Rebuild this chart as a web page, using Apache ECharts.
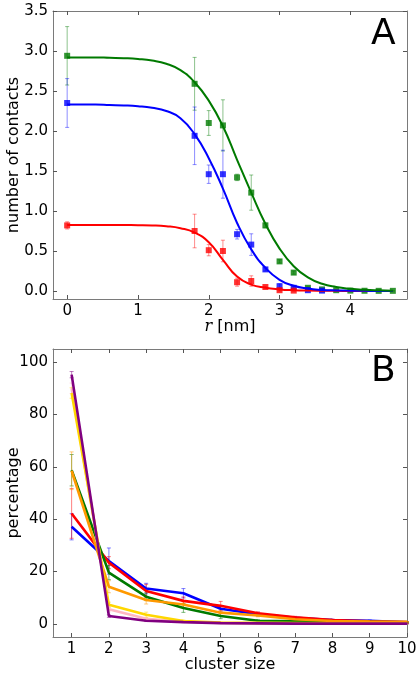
<!DOCTYPE html>
<html><head><meta charset="utf-8">
<script src="https://cdn.jsdelivr.net/npm/echarts@6/dist/echarts.min.js"></script>
<style>html,body{margin:0;padding:0;background:#fff}#c{width:420px;height:675px}</style>
</head><body><div id="c"></div>
<script>
// ---------- Panel A data ----------
const rPts = [0, 1.8, 2.0, 2.2, 2.4, 2.6, 2.8, 3.0, 3.2, 3.4, 3.6, 3.8, 4.0, 4.2, 4.4, 4.6];
const greenPts = [2.94, 2.59, 2.10, 2.07, 1.42, 1.23, 0.82, 0.37, 0.23, 0.04, 0.02, 0.01, 0.005, 0.003, 0.002, 0.002];
const greenErr = [0.365, 0.33, 0.155, 0.32, 0.04, 0.22, 0.03, 0.02, 0.02, 0.01, 0.01, 0, 0, 0, 0, 0];
const bluePts = [2.35, 1.94, 1.46, 1.46, 0.71, 0.58, 0.27, 0.06, 0.04, 0.01, 0.005];
const blueErr = [0.305, 0.36, 0.115, 0.30, 0.06, 0.135, 0.02, 0.03, 0.015, 0.01, 0];
const redPts = [0.82, 0.75, 0.51, 0.50, 0.11, 0.125, 0.05, 0.01, 0.005];
const redErr = [0.045, 0.21, 0.07, 0.135, 0.05, 0.065, 0.01, 0.01, 0.005];
// fitted curves
const fitR = [0, 0.2, 0.4, 0.6, 0.8, 1.0, 1.2, 1.4, 1.6, 1.8, 2.0, 2.2, 2.4, 2.6, 2.8, 3.0, 3.2, 3.4, 3.6, 3.8, 4.0, 4.2, 4.4, 4.6];
const greenFit = [2.92, 2.92, 2.92, 2.915, 2.91, 2.90, 2.88, 2.84, 2.76, 2.61, 2.38, 2.06, 1.64, 1.23, 0.84, 0.53, 0.31, 0.17, 0.09, 0.05, 0.028, 0.015, 0.008, 0.004];
const blueFit = [2.33, 2.33, 2.33, 2.325, 2.32, 2.31, 2.29, 2.25, 2.16, 1.96, 1.66, 1.28, 0.85, 0.52, 0.29, 0.14, 0.065, 0.03, 0.014, 0.007, 0.004, 0.002, 0.001, 0.001];
const redFit = [0.825, 0.825, 0.825, 0.824, 0.824, 0.823, 0.82, 0.81, 0.785, 0.73, 0.61, 0.39, 0.18, 0.08, 0.04, 0.02, 0.01, 0.005, 0.003, 0.002, 0.001, 0.001, 0.001, 0];
const xTicksA = [0, 1, 2, 3, 4];
const yTicksA = [0, 0.5, 1.0, 1.5, 2.0, 2.5, 3.0, 3.5];

// ---------- Panel B data ----------
const clusterSize = [1, 2, 3, 4, 5, 6, 7, 8, 9, 10];
const blueB = [37.1, 24.0, 13.5, 11.7, 5.8, 3.7, 2.3, 1.5, 1.2, 0.6];
const redB = [42.2, 23.4, 12.6, 8.8, 6.9, 4.1, 2.5, 1.5, 1.0, 0.7];
const greenB = [58.7, 19.6, 10.4, 6.1, 3.0, 1.2, 1.0, 0.8, 0.7, 0.6];
const orangeB = [58.5, 14.2, 9.1, 7.4, 4.3, 3.2, 1.8, 1.1, 0.9, 0.8];
const pinkB = [90.0, 5.6, 2.0, 0.8, 0.4, 0.3, 0.2, 0.1, 0.1, 0.1];
const yellowB = [88.2, 7.3, 3.5, 1.1, 0.5, 0.4, 0.3, 0.2, 0.2, 0.2];
const purpleB = [95.2, 3.0, 1.2, 0.7, 0.3, 0.2, 0.1, 0.1, 0.1, 0.1];
const blueBErr = [5, 5, 2, 1.8, 1.2, 0.7, 0.4, 0.3, 0.3, 0.2];
const redBErr = [9.5, 2.3, 2.5, 1.5, 1.7, 0.5, 0.4, 0.3, 0.2, 0.2];
const greenBErr = [6, 2.7, 1.5, 1.7, 1, 0.4, 0.3, 0.2, 0.2, 0.1];
const orangeBErr = [7.2, 2.3, 1.5, 1, 1, 0.5, 0.3, 0.2, 0.2, 0.1];
const pinkBErr = [2, 1, 0.5, 0.3, 0.2, 0.1, 0.1, 0.1, 0.1, 0.1];
const yellowBErr = [2, 1, 1, 0.4, 0.2, 0.1, 0.1, 0.1, 0.1, 0.1];
const purpleBErr = [1.2, 0.5, 0.3, 0.2, 0.1, 0.1, 0.1, 0.1, 0.1, 0.1];
const xTicksB = [1, 2, 3, 4, 5, 6, 7, 8, 9, 10];
const yTicksB = [0, 20, 40, 60, 80, 100];

// ---------- styling ----------
const FONT = 'DejaVu Sans';
const FRAME = '#7a7a7a';
const C = {blue:'#0000ff', red:'#ff0000', green:'#007a00', orange:'#ff9900', pink:'#ffb6c1', yellow:'#ffd700', purple:'#800080'};

function axisPair(dim, gi, min, max, ticks, fmt, name, nameGap, nameStyle) {
  const posMain = dim === 'x' ? 'bottom' : 'left';
  const posAlt = dim === 'x' ? 'top' : 'right';
  const common = {
    gridIndex: gi, type: 'value', min: min, max: max,
    axisLine: {show: true, onZero: false, lineStyle: {color: FRAME, width: 1}},
    axisTick: {show: true, inside: true, length: 4, customValues: ticks, lineStyle: {color: '#555', width: 1}},
    splitLine: {show: false}
  };
  return [
    Object.assign({}, common, {
      position: posMain,
      axisLabel: {show: true, customValues: ticks, formatter: fmt, color: '#000', fontSize: 15, fontFamily: FONT, margin: 5},
      name: name, nameLocation: 'middle', nameGap: nameGap, nameMoveOverlap: false, nameTextStyle: nameStyle
    }),
    Object.assign({}, common, {position: posAlt, axisLabel: {show: false}})
  ];
}

const nameStyle = {fontSize: 16, color: '#000', fontFamily: FONT};
const xA = axisPair('x', 0, -0.2, 4.8, xTicksA, v => String(v), '{i|r} [nm]', 20,
  {fontSize: 16, color: '#000', fontFamily: FONT, rich: {i: {fontStyle: 'italic', fontFamily: 'DejaVu Serif', fontSize: 16, color: '#000'}}});
const yA = axisPair('y', 0, -0.1, 3.5, yTicksA, v => v.toFixed(1), 'number of contacts', 31, nameStyle);
const xB = axisPair('x', 1, 0.5, 10, xTicksB, v => String(v), 'cluster size', 20, nameStyle);
const yB = axisPair('y', 1, -5, 105, yTicksB, v => String(v), 'percentage', 31, nameStyle);

function errSeries(xs, ys, es, color, xi, yi, opacity, lw) {
  return {
    type: 'custom', xAxisIndex: xi, yAxisIndex: yi, silent: true,
    encode: {x: 0, y: [1, 2]},
    data: ys.map((y, i) => [xs[i], y - es[i], y + es[i]]),
    renderItem: (p, api) => {
      const x = api.value(0);
      const a = api.coord([x, api.value(1)]);
      const b = api.coord([x, api.value(2)]);
      const cw = 2;
      const st = {stroke: color, lineWidth: lw, opacity: opacity};
      return {type: 'group', children: [
        {type: 'line', shape: {x1: a[0], y1: a[1], x2: b[0], y2: b[1]}, style: st},
        {type: 'line', shape: {x1: a[0] - cw, y1: a[1], x2: a[0] + cw, y2: a[1]}, style: st},
        {type: 'line', shape: {x1: b[0] - cw, y1: b[1], x2: b[0] + cw, y2: b[1]}, style: st}
      ]};
    }
  };
}
function curve(xs, ys, color, xi, yi, w, smooth) {
  return {type: 'line', xAxisIndex: xi, yAxisIndex: yi, data: ys.map((y, i) => [xs[i], y]),
    showSymbol: false, symbol: 'none', smooth: smooth, silent: true,
    lineStyle: {color: color, width: w}, itemStyle: {color: color}};
}
function marks(xs, ys, color) {
  return {type: 'scatter', xAxisIndex: 0, yAxisIndex: 0, symbol: 'rect', symbolSize: 6, silent: true,
    data: ys.map((y, i) => [xs[i], y]), itemStyle: {color: color}};
}

const series = [
  errSeries(rPts, greenPts, greenErr, C.green, 0, 0, 0.45, 1),
  errSeries(rPts, bluePts, blueErr, C.blue, 0, 0, 0.45, 1),
  errSeries(rPts, redPts, redErr, C.red, 0, 0, 0.45, 1),
  curve(fitR, redFit, C.red, 0, 0, 2, 0.5),
  curve(fitR, blueFit, C.blue, 0, 0, 2, 0.5),
  curve(fitR, greenFit, C.green, 0, 0, 2, 0.5),
  marks(rPts, greenPts, C.green),
  marks(rPts, bluePts, C.blue),
  marks(rPts, redPts, C.red)
];
const bSets = [
  [blueB, blueBErr, C.blue], [redB, redBErr, C.red], [greenB, greenBErr, C.green],
  [orangeB, orangeBErr, C.orange], [pinkB, pinkBErr, C.pink], [yellowB, yellowBErr, C.yellow],
  [purpleB, purpleBErr, C.purple]
];
bSets.forEach(s => series.push(errSeries(clusterSize, s[0], s[1], s[2], 2, 2, 0.5, 1)));
bSets.forEach(s => series.push(curve(clusterSize, s[0], s[2], 2, 2, 2.6, false)));

const chart = echarts.init(document.getElementById('c'), null, {renderer: 'canvas'});
chart.setOption({
  animation: false,
  backgroundColor: '#fff',
  grid: [
    {left: 53, top: 11, width: 354, height: 288, outerBoundsMode: 'none', containLabel: false},
    {left: 53, top: 349, width: 354, height: 288, outerBoundsMode: 'none', containLabel: false}
  ],
  xAxis: xA.concat(xB),
  yAxis: yA.concat(yB),
  graphic: [
    {type: 'text', left: 371, top: 17, style: {text: 'A', fontSize: 36, fontFamily: FONT, fill: '#000'}},
    {type: 'text', left: 371, top: 354, style: {text: 'B', fontSize: 36, fontFamily: FONT, fill: '#000'}}
  ],
  series: series
});
</script>
</body></html>
